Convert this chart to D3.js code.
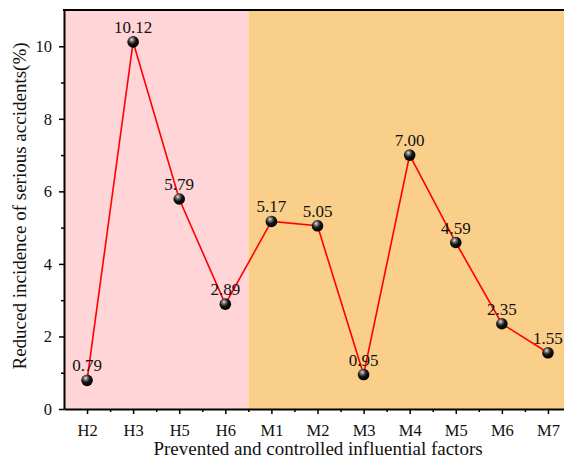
<!DOCTYPE html>
<html><head><meta charset="utf-8">
<script src="https://cdn.jsdelivr.net/npm/d3@7"></script>
<style>body{margin:0;background:#fff}svg{display:block}</style>
</head><body>
<svg id="c" width="564" height="455"></svg>
<script>
const categories = ["H2","H3","H5","H6","M1","M2","M3","M4","M5","M6","M7"];
const values = [0.79,10.12,5.79,2.89,5.17,5.05,0.95,7.00,4.59,2.35,1.55];
const labels = ["0.79","10.12","5.79","2.89","5.17","5.05","0.95","7.00","4.59","2.35","1.55"];
const yTicks = [0,2,4,6,8,10];
const regions = [{from:-0.5,to:3.5,color:"#FFD5D8"},{from:3.5,to:10.5,color:"#F9CF8A"}];

(function(){
const svg = d3.select("#c");
const pL = 64, pR = 571, pT = 10, pB = 409;
const x = d3.scaleLinear().domain([-0.5,10.5]).range([pL,pR]);
const y = d3.scaleLinear().domain([0,11]).range([pB,pT]);
const font = "'Liberation Serif','Times New Roman',serif";

svg.selectAll("rect.reg").data(regions).enter().append("rect")
  .attr("x",d=>x(d.from)).attr("width",d=>x(d.to)-x(d.from))
  .attr("y",pT).attr("height",pB-pT).attr("fill",d=>d.color);

const xAxis = d3.axisBottom(x).tickValues(d3.range(categories.length))
  .tickFormat(i=>categories[i]).tickSize(5).tickSizeOuter(0);
const gx = svg.append("g").attr("transform",`translate(0,${pB})`).call(xAxis);
gx.select(".domain").attr("stroke-width",2);
gx.selectAll(".tick line").attr("stroke-width",1.5);
gx.selectAll("text").attr("font-family",font).attr("font-size",16.5).attr("fill","#111").attr("y",27).attr("dy",0);
const gxm = svg.append("g").attr("transform",`translate(0,${pB})`)
  .call(d3.axisBottom(x).tickValues(d3.range(categories.length-1).map(i=>i+0.5)).tickSize(3).tickFormat("").tickSizeOuter(0));
gxm.select(".domain").remove();
gxm.selectAll(".tick line").attr("stroke-width",1.5);

const yAxis = d3.axisLeft(y).tickValues(yTicks).tickSize(5).tickSizeOuter(0);
const gy = svg.append("g").attr("transform",`translate(${pL},0)`).call(yAxis);
gy.select(".domain").attr("stroke-width",2);
gy.selectAll(".tick line").attr("stroke-width",1.5);
gy.selectAll("text").attr("font-family",font).attr("font-size",16.5).attr("fill","#111").attr("x",-12);
const gym = svg.append("g").attr("transform",`translate(${pL},0)`)
  .call(d3.axisLeft(y).tickValues([1,3,5,7,9]).tickSize(3).tickFormat("").tickSizeOuter(0));
gym.select(".domain").remove();
gym.selectAll(".tick line").attr("stroke-width",1.5);

svg.append("line").attr("x1",pL-1).attr("x2",pR).attr("y1",pT).attr("y2",pT)
  .attr("stroke","#000").attr("stroke-width",2);
svg.append("line").attr("x1",pR).attr("x2",pR).attr("y1",pT).attr("y2",pB)
  .attr("stroke","#000").attr("stroke-width",2);

const defs = svg.append("defs");
const grad = defs.append("radialGradient").attr("id","ball").attr("cx","40%").attr("cy","35%").attr("r","65%").attr("fx","38%").attr("fy","30%");
grad.append("stop").attr("offset","0%").attr("stop-color","#eeeeee");
grad.append("stop").attr("offset","22%").attr("stop-color","#808080");
grad.append("stop").attr("offset","55%").attr("stop-color","#151515");
grad.append("stop").attr("offset","100%").attr("stop-color","#000");

const line = d3.line().x((d,i)=>x(i)).y(d=>y(d));
svg.append("path").datum(values).attr("d",line).attr("fill","none").attr("stroke","#ff0000").attr("stroke-width",1.6);

svg.selectAll("circle.pt").data(values).enter().append("circle")
  .attr("cx",(d,i)=>x(i)).attr("cy",d=>y(d)).attr("r",5.8).attr("fill","url(#ball)");

svg.selectAll("text.lab").data(values).enter().append("text")
  .attr("x",(d,i)=>x(i)).attr("y",d=>y(d)-9).attr("text-anchor","middle")
  .attr("font-family",font).attr("font-size",17).attr("fill","#111").text((d,i)=>labels[i]);

svg.append("text").attr("x",318).attr("y",455).attr("text-anchor","middle")
  .attr("font-family",font).attr("font-size",19).attr("fill","#111").text("Prevented and controlled influential factors");
svg.append("text").attr("transform",`translate(26,206) rotate(-90)`).attr("text-anchor","middle")
  .attr("font-family",font).attr("font-size",19).attr("fill","#111").text("Reduced incidence of serious accidents(%)");
})();
</script>
</body></html>
